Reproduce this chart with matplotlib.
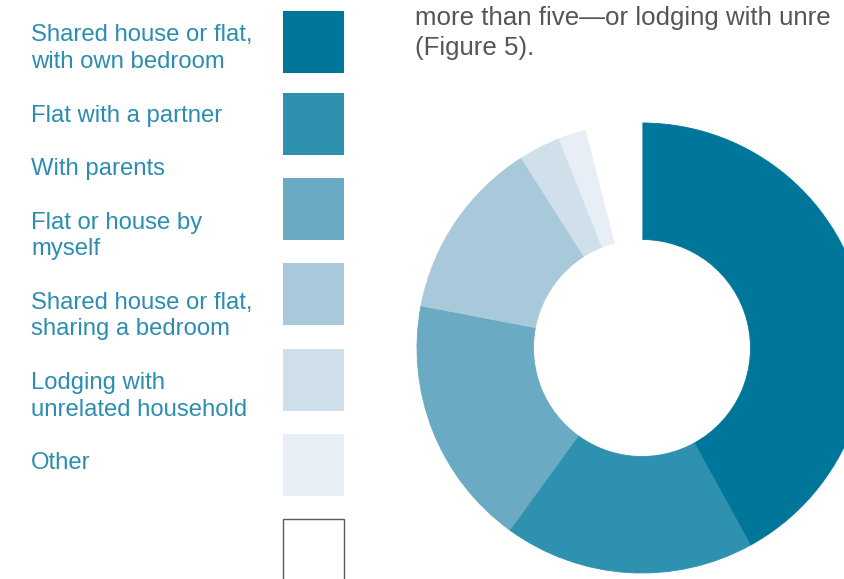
import matplotlib
matplotlib.use("Agg")
import matplotlib.pyplot as plt
from matplotlib.patches import Rectangle

# ---- data ----
categories = [
    "Shared house or flat,\nwith own bedroom",
    "Flat with a partner",
    "With parents",
    "Flat or house by\nmyself",
    "Shared house or flat,\nsharing a bedroom",
    "Lodging with\nunrelated household",
    "Other",
    "",
]
values = [42, 18, 18, 13, 3, 2, 4]
colors = ["#00779a", "#2f91b0", "#6aaac3", "#a8c9d9", "#cfe0ea", "#e8eef6", "#ffffff"]
intro_lines = ["more than five\u2014or lodging with unre", "(Figure 5)."]

W, H = 844, 579
plt.rcParams["font.family"] = ["Liberation Sans", "DejaVu Sans"]
fig = plt.figure(figsize=(W / 100, H / 100), dpi=100)
ax = fig.add_axes([0, 0, 1, 1])

def Y(py):
    return H - py

# donut
wedges, _ = ax.pie(values, colors=colors, startangle=90, counterclock=False,
                   center=(642, Y(348)), radius=225,
                   wedgeprops=dict(width=116.5, linewidth=0.6))
for w, c in zip(wedges, colors):
    w.set_edgecolor(c)

ax.set_xlim(0, W)
ax.set_ylim(0, H)
ax.set_aspect("auto")
ax.axis("off")

# legend
text_color = "#2b8db0"
label_baselines = [41, 122, 175, 229, 309, 389, 469]
box_tops = [11, 93, 178, 263, 349, 434, 519]
box_colors = colors[:6] + ["#ffffff"]
for i, lab in enumerate(categories[:7]):
    for j, line in enumerate(lab.split("\n")):
        ax.text(31, Y(label_baselines[i] + j * 26.5), line, fontsize=17.2,
                color=text_color, va="baseline", ha="left")
for i in range(7):
    top = box_tops[i]
    ec = "#5a5a5a" if i == 6 else box_colors[i]
    lw = 1.0 if i == 6 else 0
    ax.add_patch(Rectangle((283, Y(top + 62)), 61, 62, facecolor=box_colors[i],
                           edgecolor=ec, linewidth=lw, clip_on=False))

# intro text
for j, line in enumerate(intro_lines):
    ax.text(415, Y(25 + j * 30), line, fontsize=18.6, color="#555555",
            va="baseline", ha="left")

fig.savefig("out.png", dpi=100)
